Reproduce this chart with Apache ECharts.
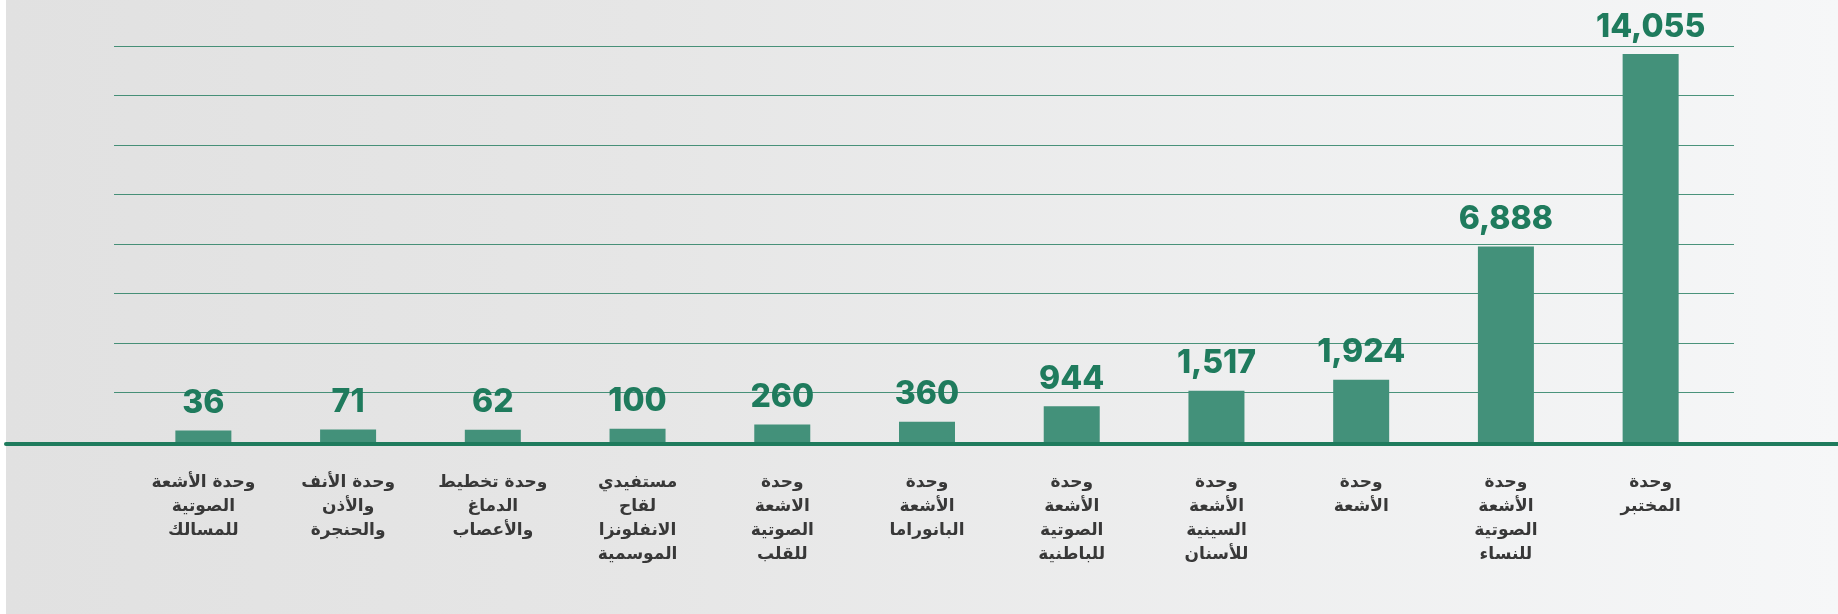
<!DOCTYPE html>
<html>
<head>
<meta charset="utf-8">
<script src="https://cdn.jsdelivr.net/npm/echarts@6/dist/echarts.min.js"></script>
<style>
  html, body { margin: 0; padding: 0; background: #fff; }
  #chart {
    width: 1838px;
    height: 614px;
    background: linear-gradient(90deg, #ffffff 0px, #ffffff 6px, #e1e1e1 6px, #e6e6e6 35%, #f6f7f8 100%);
  }
</style>
</head>
<body>
<div id="chart"></div>
<script>
// units, left to right as in the picture
const categories = [
  'وحدة الأشعة\nالصوتية\nللمسالك',
  'وحدة الأنف\nوالأذن\nوالحنجرة',
  'وحدة تخطيط\nالدماغ\nوالأعصاب',
  'مستفيدي\nلقاح\nالانفلونزا\nالموسمية',
  'وحدة\nالاشعة\nالصوتية\nللقلب',
  'وحدة\nالأشعة\nالبانوراما',
  'وحدة\nالأشعة\nالصوتية\nللباطنية',
  'وحدة\nالأشعة\nالسينية\nللأسنان',
  'وحدة\nالأشعة',
  'وحدة\nالأشعة\nالصوتية\nللنساء',
  'وحدة\nالمختبر'
];
const beneficiaries = [36, 71, 62, 100, 260, 360, 944, 1517, 1924, 6888, 14055];
// decorative guide lines, no labels in the original
const guideTicks = [0, 1, 2, 3, 4, 5, 6, 7, 8];

const GREEN = '#1f7b5d';
const BAR = '#43917a';

const chart = echarts.init(document.getElementById('chart'), null, { renderer: 'canvas' });

const getChartOptions = () => ({
  animation: false,
  grid: [
    // guide lines
    { left: 114, right: 104, top: 46, bottom: 172 },
    // bars
    { left: 131, right: 115, top: 46, bottom: 172 },
    // long baseline
    { left: 6, right: 0, top: 46, bottom: 170 },
  ],
  xAxis: [
    { gridIndex: 0, type: 'category', show: false, data: ['a'] },
    {
      gridIndex: 1,
      type: 'category',
      data: categories,
      axisLine: { show: false },
      axisTick: { show: false },
      axisLabel: {
        interval: 0,
        margin: 29,
        color: '#383838',
        fontFamily: 'DejaVu Sans',
        fontWeight: 'bold',
        fontSize: 17,
        lineHeight: 23.8,
        align: 'center',
      },
    },
    {
      gridIndex: 2,
      type: 'category',
      data: ['a'],
      z: 10,
      axisTick: { show: false },
      axisLabel: { show: false },
      axisLine: { show: true, lineStyle: { color: GREEN, width: 4 } },
    },
  ],
  yAxis: [
    {
      gridIndex: 0,
      type: 'value',
      min: guideTicks[0],
      max: guideTicks[guideTicks.length - 1],
      interval: 1,
      axisLine: { show: false },
      axisTick: { show: false },
      axisLabel: { show: false },
      splitLine: { lineStyle: { color: 'rgba(31, 123, 93, 0.8)', width: 1 } },
    },
    {
      gridIndex: 1,
      type: 'value',
      min: -390,
      max: 14350,
      startValue: -390,
      show: false,
      splitLine: { show: false },
    },
    { gridIndex: 2, type: 'value', show: false, splitLine: { show: false } },
  ],
  series: [
    {
      type: 'bar',
      xAxisIndex: 1,
      yAxisIndex: 1,
      data: beneficiaries,
      barWidth: 56,
      itemStyle: { color: BAR },
      label: {
        show: true,
        position: 'top',
        distance: 11,
        color: GREEN,
        fontFamily: 'Inter',
        fontWeight: 800,
        fontSize: 32,
        formatter: (p) => p.value.toLocaleString('en-US'),
      },
    },
  ],
});

chart.setOption(getChartOptions());
</script>
</body>
</html>
